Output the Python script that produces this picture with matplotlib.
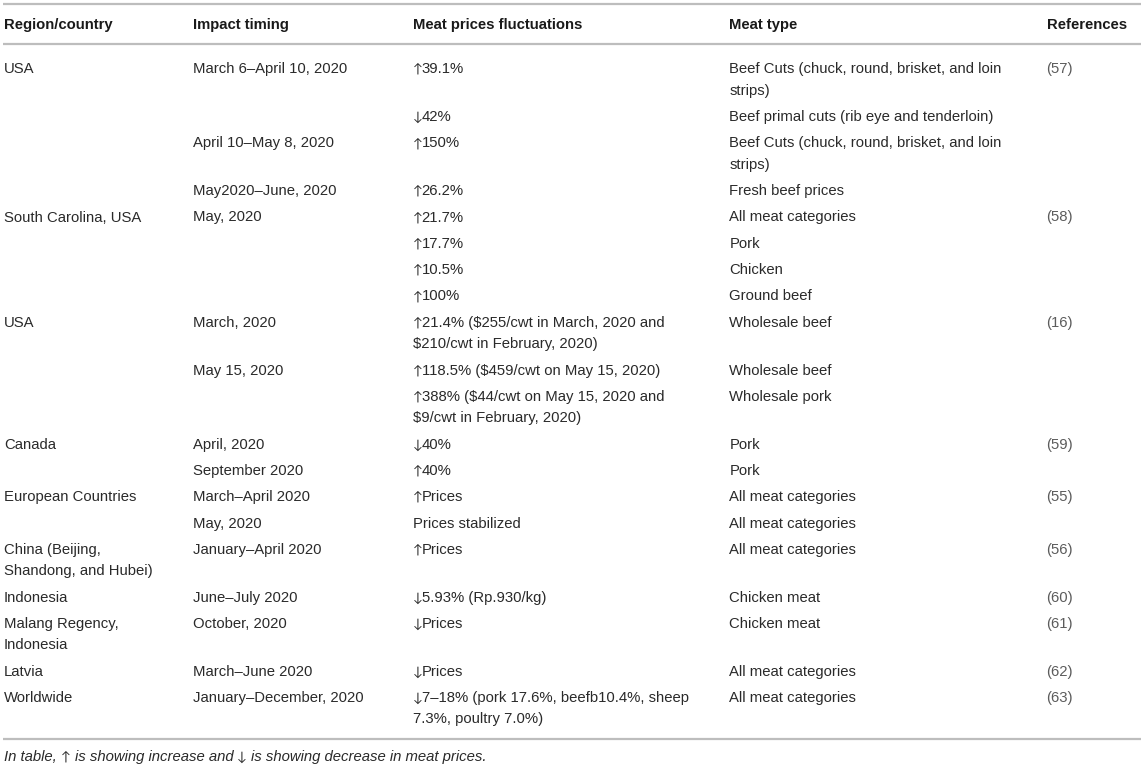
import matplotlib
matplotlib.use("Agg")
import matplotlib.pyplot as plt

headers = ["Region/country", "Impact timing", "Meat prices fluctuations", "Meat type", "References"]

regions = ["USA", "", "", "", "South Carolina, USA", "", "", "", "USA", "", "", "Canada", "",
           "European Countries", "", "China (Beijing,\nShandong, and Hubei)", "Indonesia",
           "Malang Regency,\nIndonesia", "Latvia", "Worldwide"]
timings = ["March 6–April 10, 2020", "", "April 10–May 8, 2020", "May2020–June, 2020", "May, 2020",
           "", "", "", "March, 2020", "May 15, 2020", "", "April, 2020", "September 2020",
           "March–April 2020", "May, 2020", "January–April 2020", "June–July 2020", "October, 2020",
           "March–June 2020", "January–December, 2020"]
fluctuations = ["↑39.1%", "↓42%", "↑150%", "↑26.2%", "↑21.7%", "↑17.7%", "↑10.5%", "↑100%",
                "↑21.4% ($255/cwt in March, 2020 and\n$210/cwt in February, 2020)",
                "↑118.5% ($459/cwt on May 15, 2020)",
                "↑388% ($44/cwt on May 15, 2020 and\n$9/cwt in February, 2020)",
                "↓40%", "↑40%", "↑Prices", "Prices stabilized", "↑Prices", "↓5.93% (Rp.930/kg)",
                "↓Prices", "↓Prices",
                "↓7–18% (pork 17.6%, beefb10.4%, sheep\n7.3%, poultry 7.0%)"]
meat_types = ["Beef Cuts (chuck, round, brisket, and loin\nstrips)",
              "Beef primal cuts (rib eye and tenderloin)",
              "Beef Cuts (chuck, round, brisket, and loin\nstrips)",
              "Fresh beef prices", "All meat categories", "Pork", "Chicken", "Ground beef",
              "Wholesale beef", "Wholesale beef", "Wholesale pork", "Pork", "Pork",
              "All meat categories", "All meat categories", "All meat categories",
              "Chicken meat", "Chicken meat", "All meat categories", "All meat categories"]
references = ["(57)", "", "", "", "(58)", "", "", "", "(16)", "", "", "(59)", "", "(55)", "",
              "(56)", "(60)", "(61)", "(62)", "(63)"]
footnote = "In table, ↑ is showing increase and ↓ is showing decrease in meat prices."

W, H = 1145, 768
fig = plt.figure(figsize=(W / 100, H / 100), dpi=100)
ax = fig.add_axes([0, 0, 1, 1])
ax.set_xlim(0, W)
ax.set_ylim(H, 0)
ax.axis("off")
renderer = fig.canvas.get_renderer()

FAM = ["Liberation Sans", "DejaVu Sans"]
ARROW_FAM = ["Lato", "DejaVu Sans"]
FS = 10.7
AFS = FS * 0.88
TXT = "#2a2a2a"
REF = "#5c5c5c"
RULE = "#bdbdbd"
ARROWS = "↑↓"

col_x = [4, 192.7, 413.3, 729.3, 1046.5]
row_pitch = 26.3
line_gap = 21.5


def text_width(t):
    return t.get_window_extent(renderer=renderer).width


def space_width(style):
    p1 = ax.text(0, 0, "a a", family=FAM, fontsize=FS, style=style)
    p2 = ax.text(0, 0, "aa", family=FAM, fontsize=FS, style=style)
    w = text_width(p1) - text_width(p2)
    p1.remove()
    p2.remove()
    return w


def draw_runs(x, y, s, color, style="normal"):
    """Draw a line of text; arrow glyphs drawn in a thin-arrow family."""
    runs = []
    cur = ""
    for ch in s:
        if ch in ARROWS:
            if cur:
                runs.append(cur)
                cur = ""
            runs.append(ch)
        else:
            cur += ch
    if cur:
        runs.append(cur)
    sp = space_width(style)
    for j, txt in enumerate(runs):
        is_arrow = txt in ARROWS
        lead = len(txt) - len(txt.lstrip(" "))
        trail = len(txt) - len(txt.rstrip(" "))
        body = txt.strip(" ")
        x += lead * sp
        if body:
            if is_arrow:
                t = ax.text(x, y - 0.3, body, family=ARROW_FAM, fontsize=AFS,
                            color=color, va="baseline")
                nxt = runs[j + 1] if j + 1 < len(runs) else ""
                x += text_width(t) - (1.5 if not nxt.startswith(" ") else 0.3)
            else:
                t = ax.text(x, y, body, family=FAM, fontsize=FS, style=style,
                            color=color, va="baseline")
                x += text_width(t)
        x += trail * sp


# rules
for yy in (4, 44.3, 739):
    ax.plot([3, 1141], [yy, yy], color=RULE, lw=1.6, solid_capstyle="butt")

# header
for x, h in zip(col_x, headers):
    ax.text(x, 29.3, h, family=FAM, fontsize=FS, fontweight="bold", color="#1a1a1a", va="baseline")

y = 73.3
columns = [regions, timings, fluctuations, meat_types, references]
for i in range(len(regions)):
    nlines = 1
    for c, col in enumerate(columns):
        lines = col[i].split("\n") if col[i] else []
        nlines = max(nlines, len(lines))
        for k, ln in enumerate(lines):
            draw_runs(col_x[c], y + k * line_gap, ln, REF if c == 4 else TXT)
    y += row_pitch + (nlines - 1) * line_gap

draw_runs(4, 760.7, footnote, TXT, style="italic")

fig.savefig("out.png", dpi=100)
